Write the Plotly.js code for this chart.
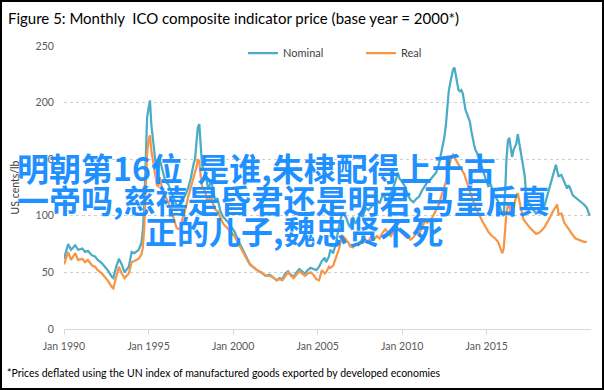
<!DOCTYPE html>
<html>
<head>
<meta charset="utf-8">
<script src="https://cdn.plot.ly/plotly-3.0.1.min.js"></script>
<style>
  html, body { margin: 0; padding: 0; background: #fff; }
  #wrap { position: relative; width: 604px; height: 390px; }
  #chart { width: 604px; height: 390px; }
  #frame { position: absolute; left: 0; top: 0; width: 600px; height: 386px; border: 2px solid #000; pointer-events: none; }
</style>
</head>
<body>
<div id="wrap"><div id="chart"></div><div id="frame"></div></div>
<script>
const months = [
"1990-01","1990-04","1990-06","1990-09","1990-11","1991-02","1991-04","1991-06","1991-09","1991-11",
"1992-01","1992-04","1992-06","1992-08","1992-11","1992-12","1993-02","1993-04","1993-06","1993-08",
"1993-11","1994-01","1994-03","1994-06","1994-08","1994-09","1994-10","1994-11","1994-12","1995-01",
"1995-02","1995-03","1995-04","1995-05","1995-06","1995-07","1995-08","1995-09","1995-10","1995-11",
"1996-01","1996-03","1996-05","1996-07","1996-09","1996-11","1997-01","1997-03","1997-05","1997-07",
"1997-09","1997-10","1997-11","1997-12","1998-01","1998-02","1998-03","1998-04","1998-05","1998-07",
"1998-08","1998-09","1998-10","1998-12","1999-02","1999-04","1999-06","1999-09","1999-12","2000-02",
"2000-04","2000-06","2000-08","2000-11","2001-01","2001-03","2001-06","2001-09","2001-12","2002-03",
"2002-05","2002-08","2002-10","2002-12","2003-02","2003-04","2003-06","2003-08","2003-10","2003-12",
"2004-02","2004-04","2004-06","2004-08","2004-10","2004-12","2005-02","2005-04","2005-06","2005-07",
"2005-09","2005-10","2005-12","2006-02","2006-04","2006-06","2006-07","2006-09","2006-11","2006-12",
"2007-02","2007-04","2007-06","2007-07","2007-09","2007-11","2008-01","2008-03","2008-05","2008-07",
"2008-09","2008-11","2009-01","2009-03","2009-05","2009-07","2009-09","2009-10","2009-11","2010-01",
"2010-03","2010-05","2010-07","2010-09","2010-11","2011-01","2011-03","2011-05","2011-07","2011-09",
"2011-11","2012-01","2012-03","2012-05","2012-07","2012-08","2012-09","2012-10","2012-11","2012-12",
"2013-01","2013-02","2013-03","2013-04","2013-05","2013-06","2013-07","2013-08","2013-09","2013-10",
"2013-11","2013-12","2014-01","2014-02","2014-03","2014-04","2014-05","2014-06","2014-07","2014-08",
"2014-10","2014-12","2015-02","2015-04","2015-06","2015-07","2015-09","2015-11","2015-12","2016-01",
"2016-02","2016-03","2016-04","2016-05","2016-06","2016-07","2016-08","2016-09","2016-10","2016-11",
"2016-12","2017-01","2017-03","2017-04","2017-05","2017-06","2017-08","2017-10","2017-12","2018-02",
"2018-04","2018-06","2018-08","2018-10","2018-12","2019-02","2019-03","2019-04","2019-06","2019-08",
"2019-10","2019-11","2019-12","2020-02","2020-04","2020-06","2020-08","2020-10","2020-12","2021-02"
];
const nominal = [
62,75,70,74,70,71,68,69,65,64,
61,58,55,52,46,45,55,62,57,50,
55,68,67,70,76,88,110,160,187,195,
202,181,168,155,147,140,143,150,145,138,
130,128,122,116,109,110,114,118,124,133,
146,150,165,178,181,166,145,141,140,126,
124,131,128,115,115,104,99,95,90,86,
80,75,70,62,57,55,52,50,47,48,
46,43,45,44,49,51,48,46,50,53,
51,49,52,54,53,52,55,60,63,59,
64,70,67,76,90,100,102,99,92,90,
99,93,98,102,99,107,105,108,110,114,
111,118,116,114,120,126,134,138,133,130,
126,118,114,112,115,117,122,126,130,132,
135,138,145,157,170,180,200,210,217,225,
229,231,225,218,211,210,211,208,199,193,
190,187,183,175,168,163,158,156,152,150,
141,134,126,127,119,117,113,106,101,100,
120,150,166,169,162,152,158,162,164,172,
165,157,143,135,118,113,109,105,102,104,
106,109,118,128,137,145,140,135,136,130,
124,127,125,118,116,114,112,110,107,100
];
const real = [
57,68,61,67,61,62,59,61,56,55,
52,49,46,43,37,36,46,55,49,45,
49,59,60,62,66,72,90,130,155,167,
171,158,150,140,133,127,126,134,128,120,
117,112,105,96,89,88,96,105,116,125,
133,138,143,150,148,135,126,124,122,112,
114,118,114,106,104,98,93,89,85,82,
77,73,68,61,57,55,52,50,47,47,
46,43,44,43,47,50,47,45,48,51,
49,47,49,50,48,44,43,52,49,50,
55,54,56,63,70,80,82,79,76,73,
72,75,74,76,76,79,77,82,79,82,
80,85,88,85,82,86,90,89,87,85,
82,82,79,81,86,84,90,95,94,96,
100,105,110,118,125,130,138,143,148,152,
154,152,150,148,145,143,141,139,137,133,
129,125,121,117,113,110,107,105,102,100,
95,90,86,83,81,80,77,70,67,71,
85,103,109,111,101,100,107,113,118,120,
115,108,97,95,93,92,89,86,84,85,
87,90,94,99,104,108,110,101,102,94,
90,89,87,83,80,79,78,77,77,null
];
const seriesNames = ["Nominal", "Real"];
const xTickDates = ["1990-01-01","1995-01-01","2000-01-01","2005-01-01","2010-01-01","2015-01-01"];
const xTickLabels = ["Jan 1990","Jan 1995","Jan 2000","Jan 2005","Jan 2010","Jan 2015"];
const yTicks = [0, 50, 100, 150, 200, 250];
const titleText = "Figure 5: Monthly  ICO composite indicator price (base year = 2000*)";
const yTitle = "US cents/lb";
const footnote = "*Prices deflated using the UN index of manufactured goods exported by developed economies";
const overlayLines = ["明朝第16位  是谁,朱棣配得上千古", "一帝吗,慈禧是昏君还是明君,马皇后真", "正的儿子,魏忠贤不死"];

// layout geometry (pixels)
const W = 604, H = 390, L = 64, R = 13, T = 46, B = 61;
const PW = W - L - R, PH = H - T - B;
const px = x => (x - L) / PW;
const py = y => (H - B - y) / PH;

const latin = "Lato, 'Open Sans', sans-serif";
const traces = [
  { x: months, y: nominal, name: seriesNames[0], type: "scatter", mode: "lines",
    line: { color: "#4bacc6", width: 2.25 } },
  { x: months, y: real, name: seriesNames[1], type: "scatter", mode: "lines",
    line: { color: "#f79646", width: 2.25 } }
];
const overlayPos = [[15, 167], [15, 199], [143, 230]];
const annotations = overlayLines.map((t, i) => ({
  text: t, xref: "paper", yref: "paper", x: px(overlayPos[i][0]), y: py(overlayPos[i][1]),
  xanchor: "left", yanchor: "middle", showarrow: false,
  font: { family: "'Noto Sans CJK SC', sans-serif", size: 32, weight: 600, color: "#1e90ff" }
}));
annotations.push({
  text: footnote, xref: "paper", yref: "paper", x: px(5), y: py(373),
  xanchor: "left", yanchor: "middle", showarrow: false,
  font: { family: latin, size: 10.5, color: "#000" }
});
const layout = {
  width: W, height: H,
  margin: { l: L, r: R, t: T, b: B },
  paper_bgcolor: "#fff", plot_bgcolor: "#fff",
  title: { text: titleText, x: 8 / W, xanchor: "left", xref: "container",
    y: 1 - 19 / H, yref: "container", yanchor: "middle",
    font: { family: latin, size: 15, color: "#000" } },
  showlegend: true,
  legend: { orientation: "h", x: px(243), y: py(53), xanchor: "left", yanchor: "middle",
    font: { family: latin, size: 11, color: "#404040" }, bgcolor: "rgba(0,0,0,0)",
    itemwidth: 30, entrywidth: 73, entrywidthmode: "pixels", traceorder: "normal" },
  xaxis: { type: "date", range: ["1990-01-01", "2021-03-01"], tickvals: xTickDates, ticktext: xTickLabels,
    showgrid: false, showline: true, linecolor: "#d9d9d9", linewidth: 1,
    ticks: "outside", ticklen: 5, tickcolor: "#d9d9d9", zeroline: false, ticklabelstandoff: 2,
    tickfont: { family: latin, size: 10.5, color: "#595959" } },
  yaxis: { range: [0, 250], tickvals: yTicks, showgrid: true, gridcolor: "#d0d0d0", griddash: "dot",
    gridwidth: 1, zeroline: false, showline: false, ticks: "outside", ticklen: 7, tickcolor: "rgba(0,0,0,0)",
    tickfont: { family: latin, size: 10.5, color: "#595959" },
    title: { text: yTitle, standoff: 13, font: { family: latin, size: 10.5, color: "#404040" } } },
  annotations: annotations
};
Plotly.newPlot("chart", traces, layout, { displayModeBar: false, staticPlot: true });
</script>
</body>
</html>
